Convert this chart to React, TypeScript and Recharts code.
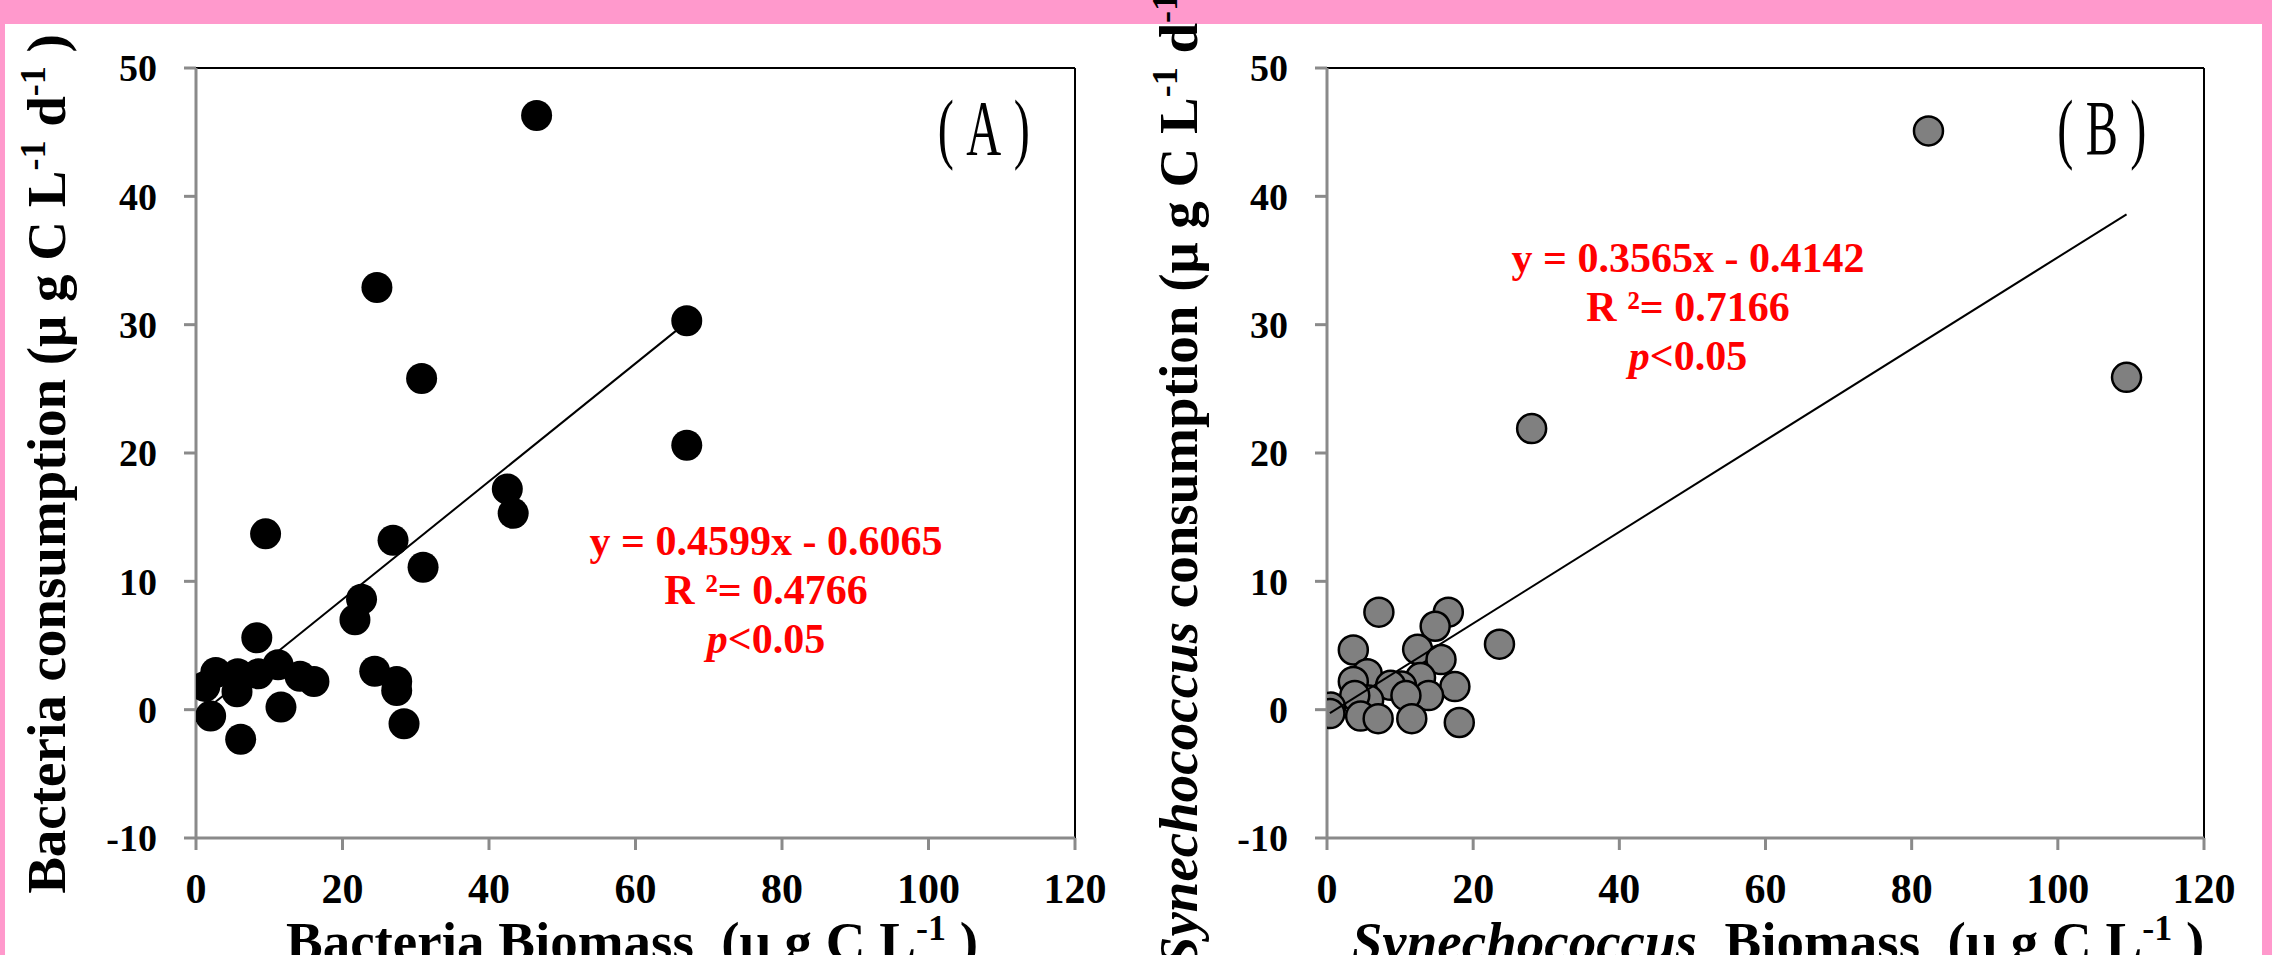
import React from 'react';
import { ScatterChart, Scatter, XAxis, YAxis, ReferenceLine } from 'recharts';

// axis ticks shared by both panels
const xTicks = [0, 20, 40, 60, 80, 100, 120];
const yTicks = [-10, 0, 10, 20, 30, 40, 50];

// (A) bacteria biomass vs consumption
const bacteriaBiomass = [46.5, 24.7, 67.0, 30.8, 67.0, 42.5, 43.3, 9.5, 26.9, 31.0, 22.6, 21.7, 8.3, 1.2, 2.7, 5.7, 5.6, 8.5, 11.2, 14.2, 16.1, 2.0, 11.6, 6.1, 24.4, 27.4, 27.4, 28.4];
const bacteriaConsumption = [46.3, 32.9, 30.3, 25.8, 20.6, 17.2, 15.3, 13.7, 13.2, 11.1, 8.6, 7.0, 5.6, 1.8, 2.9, 2.8, 1.4, 2.8, 3.5, 2.6, 2.2, -0.5, 0.2, -2.3, 3.0, 2.2, 1.5, -1.1];
const trendBacteria = [{ x: 1.2, y: -0.06 }, { x: 67.0, y: 30.2 }];

// (B) Synechococcus biomass vs consumption
const synBiomass = [82.3, 109.4, 28.0, 23.6, 7.1, 16.6, 14.8, 3.6, 12.4, 15.6, 5.5, 3.6, 12.8, 10.2, 8.7, 17.5, 13.9, 10.8, 5.7, 3.8, 0.5, 0.4, 4.6, 7.0, 11.6, 18.1];
const synConsumption = [45.1, 25.9, 21.9, 5.1, 7.6, 7.6, 6.5, 4.65, 4.7, 3.9, 2.8, 2.2, 2.5, 1.85, 1.9, 1.8, 1.1, 1.1, 0.75, 1.1, 0.2, -0.3, -0.5, -0.7, -0.7, -1.0];
const trendSyn = [{ x: 0.4, y: -0.27 }, { x: 109.4, y: 38.6 }];

const FONT = 'Liberation Serif';
const AXIS_GRAY = '#8a8a8a';

const zip = (xs: number[], ys: number[]) => xs.map((x, i) => ({ x, y: ys[i] }));

interface PanelProps {
  left: number;
  width: number;
  marginLeft: number;
  marginRight: number;
  points: { x: number; y: number }[];
  trend: { x: number; y: number }[];
  fill: string;
  outline: string | null;
}

function Panel(props: PanelProps) {
  const marker = (p: any) => (
    <circle
      cx={p.cx}
      cy={p.cy}
      r={props.outline ? 14.5 : 15.5}
      fill={props.fill}
      stroke={props.outline ?? 'none'}
      strokeWidth={props.outline ? 2.5 : 0}
    />
  );
  return (
    <div style={{ position: 'absolute', left: props.left, top: 0 }}>
      <ScatterChart
        width={props.width}
        height={955}
        margin={{ top: 68, right: props.marginRight, bottom: 67, left: props.marginLeft }}
      >
        <XAxis
          type="number"
          dataKey="x"
          domain={[0, 120]}
          ticks={xTicks}
          allowDataOverflow
          height={50}
          tickSize={12}
          tickMargin={23}
          axisLine={{ stroke: AXIS_GRAY, strokeWidth: 3 }}
          tickLine={{ stroke: AXIS_GRAY, strokeWidth: 3 }}
          tick={{ fill: '#000', fontSize: 42, fontWeight: 'bold', fontFamily: FONT }}
        />
        <YAxis
          type="number"
          dataKey="y"
          domain={[-10, 50]}
          ticks={yTicks}
          allowDataOverflow
          width={60}
          tickSize={12}
          tickMargin={27}
          axisLine={{ stroke: AXIS_GRAY, strokeWidth: 3 }}
          tickLine={{ stroke: AXIS_GRAY, strokeWidth: 3 }}
          tick={{ fill: '#000', fontSize: 38, fontWeight: 'bold', fontFamily: FONT }}
        />
        <ReferenceLine y={50} stroke="#000" strokeWidth={2} />
        <ReferenceLine x={120} stroke="#000" strokeWidth={2} />
        <Scatter data={props.points} shape={marker} isAnimationActive={false} />
        <Scatter
          data={props.trend}
          line={{ stroke: '#000', strokeWidth: 2 }}
          shape={() => <g />}
          isAnimationActive={false}
        />
      </ScatterChart>
    </div>
  );
}

const Sup = ({ children }: { children: string }) => (
  <>
    <tspan dy={-20} fontSize={36}>{children}</tspan>
    <tspan dy={20}>{'\u00a0'}</tspan>
  </>
);

function Annotation({ x, y, eq, r2 }: { x: number; y: number; eq: string; r2: string }) {
  return (
    <g fill="#ff0000" fontFamily={FONT} fontWeight="bold" fontSize={42} textAnchor="middle">
      <text x={x} y={y}>{eq}</text>
      <text x={x} y={y + 49}>{`R ²= ${r2}`}</text>
      <text x={x} y={y + 98}>
        <tspan fontStyle="italic">p</tspan>&lt;0.05
      </text>
    </g>
  );
}

function PanelTag({ x, label }: { x: number; label: string }) {
  return (
    <text
      transform={`translate(${x},154) scale(0.62,1)`}
      textAnchor="middle"
      fontFamily={FONT}
      fontSize={78}
      letterSpacing={20}
      fill="#000"
    >
      {label}
    </text>
  );
}

export default function App() {
  return (
    <div style={{ position: 'absolute', left: 0, top: 0, width: 2272, height: 955, overflow: 'hidden', background: '#ff99cc' }}>
      <div style={{ position: 'absolute', left: 5, top: 24, width: 2257, height: 931, background: '#fff' }} />
      <Panel
        left={0}
        width={1140}
        marginLeft={136}
        marginRight={65}
        points={zip(bacteriaBiomass, bacteriaConsumption)}
        trend={trendBacteria}
        fill="#000"
        outline={null}
      />
      <Panel
        left={1140}
        width={1132}
        marginLeft={127}
        marginRight={68}
        points={zip(synBiomass, synConsumption)}
        trend={trendSyn}
        fill="#808080"
        outline="#000"
      />
      <svg
        width={2272}
        height={955}
        style={{ position: 'absolute', left: 0, top: 0, pointerEvents: 'none' }}
      >
        <g fontFamily={FONT} fontWeight="bold" fontSize={55} fill="#000" textAnchor="middle">
          <text transform="translate(65,464) rotate(-90)">
            Bacteria consumption (μ g C L<Sup>-1</Sup>d<Sup>-1</Sup>)
          </text>
          <text x={632} y={960}>
            {'Bacteria Biomass\u00a0 (μ g C L'}<Sup>-1</Sup>)
          </text>
          <text transform="translate(1197,464) rotate(-90)">
            <tspan fontStyle="italic">Synechococcus</tspan> consumption (μ g C L<Sup>-1</Sup>d<Sup>-1</Sup>)
          </text>
          <text x={1778} y={960}>
            <tspan fontStyle="italic">Synechococcus</tspan>
            {'\u00a0 Biomass\u00a0 (μ g C L'}<Sup>-1</Sup>)
          </text>
        </g>
        <Annotation x={766} y={555} eq="y = 0.4599x - 0.6065" r2="0.4766" />
        <Annotation x={1688} y={272} eq="y = 0.3565x - 0.4142" r2="0.7166" />
        <PanelTag x={990} label="(A)" />
        <PanelTag x={2108} label="(B)" />
      </svg>
    </div>
  );
}
